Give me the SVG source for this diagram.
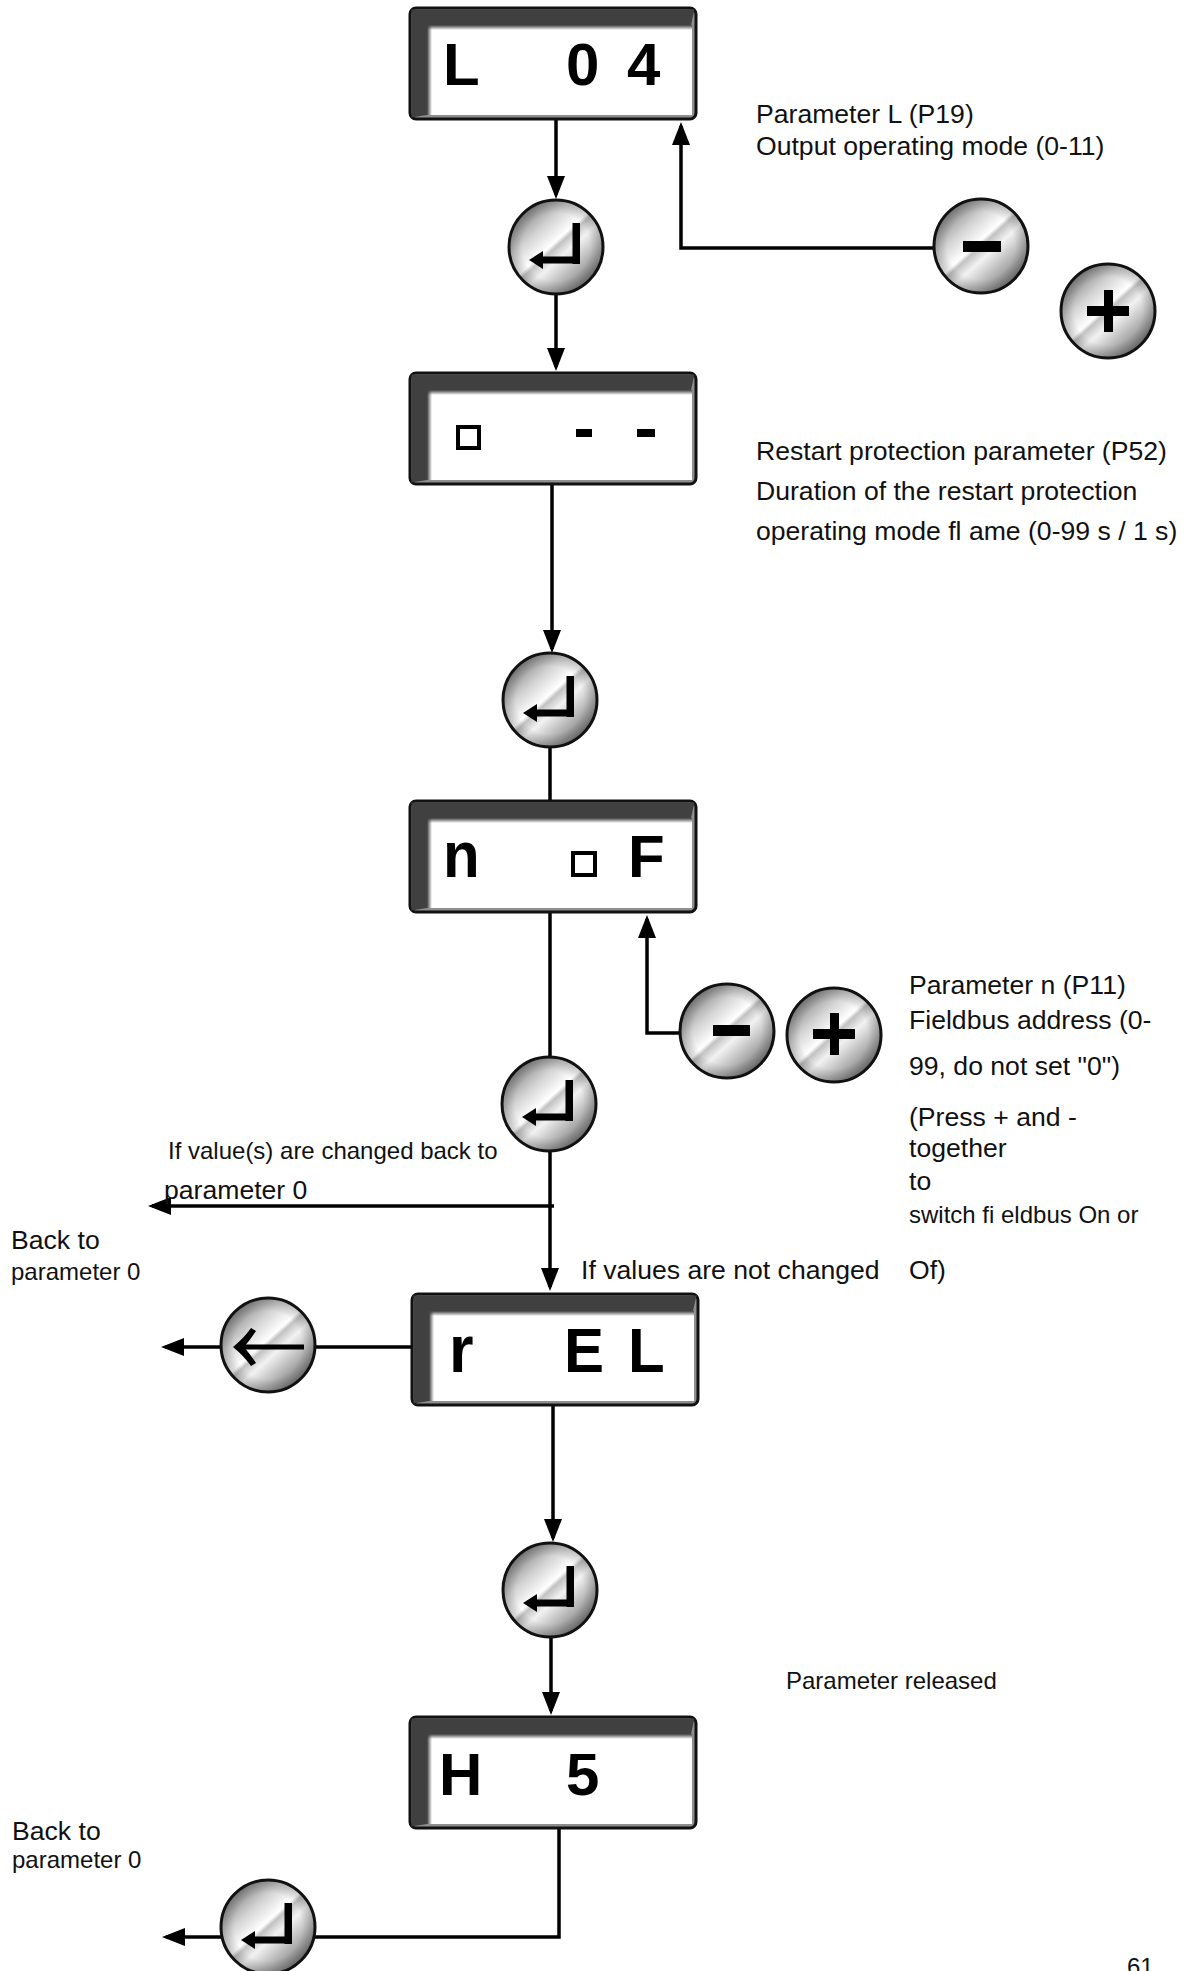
<svg xmlns="http://www.w3.org/2000/svg" width="1185" height="1971" viewBox="0 0 1185 1971">
<style>
text { font-family: "Liberation Sans", Arial, sans-serif; fill: #111; }
.lbl { font-size: 26.6px; }
.sm { font-size: 24px; }
.disp { font-size: 60px; font-weight: bold; fill: #000; }
.wire { fill: none; stroke: #000; stroke-width: 3.5; }
.arr { marker-end: url(#ah); }
.sign { fill: #000; }
</style>
<defs>
  <linearGradient id="metal" x1="0.12" y1="0.08" x2="0.88" y2="0.92">
    <stop offset="0" stop-color="#767676"/>
    <stop offset="0.28" stop-color="#d4d4d4"/>
    <stop offset="0.46" stop-color="#ffffff"/>
    <stop offset="0.5" stop-color="#c2c2c2"/>
    <stop offset="0.6" stop-color="#f2f2f2"/>
    <stop offset="1" stop-color="#6a6a6a"/>
  </linearGradient>
  <radialGradient id="rim" cx="0.5" cy="0.5" r="0.5">
    <stop offset="0.72" stop-color="#000" stop-opacity="0"/>
    <stop offset="1" stop-color="#000" stop-opacity="0.22"/>
  </radialGradient>
  <linearGradient id="fadeT" x1="0" y1="0" x2="0" y2="1">
    <stop offset="0" stop-color="#404040"/>
    <stop offset="1" stop-color="#404040" stop-opacity="0"/>
  </linearGradient>
  <linearGradient id="fadeL" x1="0" y1="0" x2="1" y2="0">
    <stop offset="0" stop-color="#404040"/>
    <stop offset="1" stop-color="#404040" stop-opacity="0"/>
  </linearGradient>
  <g id="btn">
    <circle r="47" fill="url(#metal)"/>
    <circle r="47" fill="url(#rim)" stroke="#111" stroke-width="3"/>
  </g>
  <g id="enterIcon" fill="#000">
    <rect x="16.5" y="-24" width="7.5" height="41"/>
    <rect x="-13" y="9.5" width="37" height="7"/>
    <polygon points="-27,13 -13,4 -13,22"/>
  </g>
  <g id="box">
    <rect x="0" y="0" width="286" height="111" rx="6" fill="#8e8e8e" stroke="#111" stroke-width="3"/>
    <polygon points="1.5,1.5 284.5,1.5 281,17 17,17 17,107 1.5,109.5" fill="#404040"/>
    <rect x="17" y="17" width="265" height="90" fill="#fff"/>
    <rect x="17" y="17" width="265" height="5" fill="url(#fadeT)"/>
    <rect x="17" y="17" width="5" height="90" fill="url(#fadeL)"/>
  </g>
  <marker id="ah" markerUnits="userSpaceOnUse" markerWidth="23" markerHeight="18" refX="19" refY="9" orient="auto">
    <path d="M0,0 L23,9 L0,18 Z" fill="#000"/>
  </marker>
</defs>

<rect width="1185" height="1971" fill="#fff"/>

<g id="connectors">
  <path class="wire arr" d="M556,119 V195"/>
  <path class="wire arr" d="M556,295 V367"/>
  <path class="wire arr" d="M935,248 H681 V126"/>
  <path class="wire arr" d="M552,483 V649"/>
  <path class="wire" d="M550,747 V801"/>
  <path class="wire" d="M550,911 V1058"/>
  <path class="wire arr" d="M681,1033 H647 V919"/>
  <path class="wire arr" d="M550,1151 V1287"/>
  <path class="wire arr" d="M554,1206 H152"/>
  <path class="wire" d="M412,1347 H314"/>
  <path class="wire arr" d="M222,1347 H165"/>
  <path class="wire arr" d="M553,1403 V1538"/>
  <path class="wire arr" d="M551,1638 V1711"/>
  <path class="wire" d="M559,1829 V1937 H314"/>
  <path class="wire arr" d="M222,1937 H166"/>
</g>

<g id="display-L04">
  <use href="#box" x="410" y="8"/>
  <text class="disp" x="443" y="85">L</text>
  <text class="disp" x="566" y="85">0</text>
  <text class="disp" x="627" y="85">4</text>
</g>

<g id="display-o--">
  <use href="#box" x="410" y="373"/>
  <rect x="458" y="427" width="21" height="21" fill="none" stroke="#000" stroke-width="4"/>
  <rect x="576" y="429" width="16" height="8" fill="#000"/>
  <rect x="637" y="429" width="18" height="8" fill="#000"/>
</g>

<g id="display-noF">
  <use href="#box" x="410" y="801"/>
  <text class="disp" transform="translate(443,877) scale(1,1.08)">n</text>
  <rect x="573" y="853" width="22" height="22" fill="none" stroke="#000" stroke-width="4"/>
  <text class="disp" x="628" y="877">F</text>
</g>

<g id="display-rEL">
  <use href="#box" x="412" y="1294"/>
  <text class="disp" transform="translate(449,1372) scale(1.05,1.12)">r</text>
  <text class="disp" transform="translate(564,1372) scale(1,1.05)">E</text>
  <text class="disp" transform="translate(628,1372) scale(1,1.05)">L</text>
</g>

<g id="display-H5">
  <use href="#box" x="410" y="1717"/>
  <text class="disp" x="439" y="1795">H</text>
  <text class="disp" x="566" y="1795">5</text>
</g>

<g id="btn-enter-1">
  <use href="#btn" x="556" y="247"/>
  <use href="#enterIcon" x="556" y="247"/>
</g>
<g id="btn-minus-1">
  <use href="#btn" x="981" y="246"/>
  <rect class="sign" x="963" y="241" width="38" height="11"/>
</g>
<g id="btn-plus-1">
  <use href="#btn" x="1108" y="311"/>
  <rect class="sign" x="1087" y="306" width="42" height="10"/>
  <rect class="sign" x="1104" y="290" width="9" height="42"/>
</g>
<g id="btn-enter-2">
  <use href="#btn" x="550" y="700"/>
  <use href="#enterIcon" x="550" y="700"/>
</g>
<g id="btn-minus-2">
  <use href="#btn" x="727" y="1031"/>
  <rect class="sign" x="713" y="1025" width="37" height="11"/>
</g>
<g id="btn-plus-2">
  <use href="#btn" x="834" y="1035"/>
  <rect class="sign" x="813" y="1029" width="42" height="10"/>
  <rect class="sign" x="830" y="1013" width="9" height="42"/>
</g>
<g id="btn-enter-3">
  <use href="#btn" x="549" y="1104"/>
  <use href="#enterIcon" x="549" y="1104"/>
</g>
<g id="btn-back">
  <use href="#btn" x="268" y="1345"/>
  <rect class="sign" x="240" y="1344.5" width="64" height="5"/>
  <path class="sign" d="M233,1347 Q244,1338 251,1328 L256,1331 Q250,1340 244,1347 Q250,1354 256,1363 L251,1366 Q244,1356 233,1347 Z"/>
</g>
<g id="btn-enter-4">
  <use href="#btn" x="550" y="1590"/>
  <use href="#enterIcon" x="550" y="1590"/>
</g>
<g id="btn-enter-5">
  <use href="#btn" x="268" y="1927"/>
  <use href="#enterIcon" x="268" y="1927"/>
</g>

<g id="labels">
  <text class="lbl" x="756" y="123">Parameter L (P19)</text>
  <text class="lbl" x="756" y="155">Output operating mode (0-11)</text>
  <text class="lbl" x="756" y="460">Restart protection parameter (P52)</text>
  <text class="lbl" x="756" y="500">Duration of the restart protection</text>
  <text class="lbl" x="756" y="540">operating mode fl ame (0-99 s / 1 s)</text>
  <text class="lbl" x="909" y="994">Parameter n (P11)</text>
  <text class="lbl" x="909" y="1029">Fieldbus address (0-</text>
  <text class="lbl" x="909" y="1075">99, do not set "0")</text>
  <text class="lbl" x="909" y="1126">(Press + and -</text>
  <text class="lbl" x="909" y="1157">together</text>
  <text class="lbl" x="909" y="1190">to</text>
  <text class="sm" x="909" y="1223">switch fi eldbus On or</text>
  <text class="lbl" x="909" y="1279">Of)</text>
  <text class="lbl" x="581" y="1279">If values are not changed</text>
  <text class="sm" x="168" y="1159">If value(s) are changed back to</text>
  <text class="lbl" x="164" y="1199">parameter 0</text>
  <text class="lbl" x="11" y="1249">Back to</text>
  <text class="sm" x="11" y="1280">parameter 0</text>
  <text class="lbl" x="12" y="1840">Back to</text>
  <text class="sm" x="12" y="1868">parameter 0</text>
  <text class="sm" x="786" y="1689">Parameter released</text>
  <text class="sm" x="1127" y="1975">61</text>
</g>
</svg>
